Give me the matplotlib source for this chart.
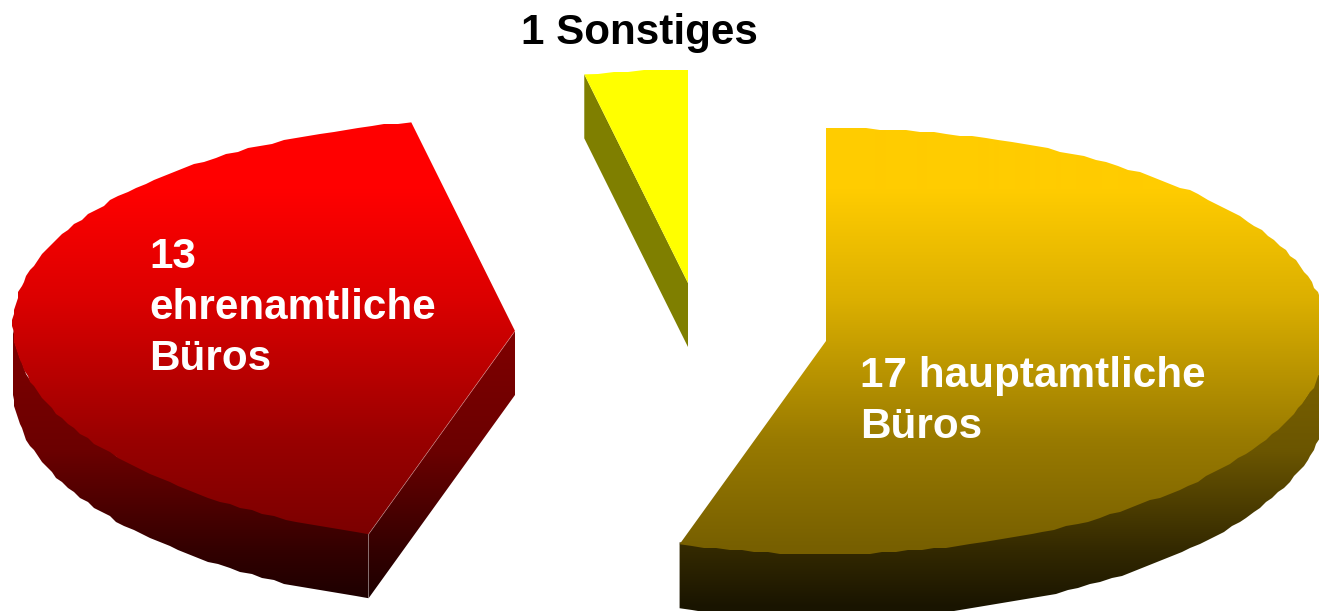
import numpy as np
import matplotlib
matplotlib.use('Agg')
import matplotlib.pyplot as plt
from matplotlib.patches import PathPatch
from matplotlib.path import Path

plt.rcParams['font.family'] = ['Liberation Sans', 'DejaVu Sans']

W, H = 1319, 611

categories = ['hauptamtliche', 'ehrenamtliche', 'Sonstiges']
values = [17, 13, 1]
labels = [['17 hauptamtliche', 'Büros'], ['13', 'ehrenamtliche', 'Büros'], ['1 Sonstiges']]

# look of each slice, in picture pixels
colors = [(255, 204, 0), (255, 0, 0), (255, 255, 0)]
centers = [(826, 341), (515, 331), (688, 283)]
label_pos = [(860, 376), (149, 257), (639, 33)]
label_colors = ['white', 'white', 'black']
label_ha = ['left', 'left', 'center']
RX, RY = 502, 213
SKEW = 0.027  # back of the pie is a bit wider than the front
DEPTH = 64
STEP = 1.5
GRID = 2  # the arcs in the picture have small stair steps
LINE = 51

# shading factor over picture height
top_y, top_f = [124, 190, 300, 440, 545], [1.0, 1.0, 0.86, 0.60, 0.47]
wall_y, wall_f = [331, 450, 550, 606], [0.50, 0.42, 0.20, 0.10]


def ell(c, t):
    t = np.radians(t)
    rx = RX * (1 + SKEW * np.cos(t))
    return np.column_stack([c[0] + rx * np.sin(t), c[1] - RY * np.cos(t)])


def arc(c, a, b):
    n = max(int(abs(b - a) / STEP), 1)
    pts = ell(c, np.linspace(a, b, n + 1))
    pts[1:-1] = np.round(pts[1:-1] / GRID) * GRID
    return pts


def shaded(ax, pts, rgb, ys, fs, flat=None, z=2):
    yy = np.arange(H) + 0.5
    f = np.full_like(yy, flat) if flat is not None else np.interp(yy, ys, fs)
    img = np.outer(f, np.array(rgb) / 255.0).reshape(H, 1, 3)
    im = ax.imshow(img, extent=(0, W, H, 0), aspect='auto', zorder=z,
                   interpolation='bilinear')
    p = PathPatch(Path(np.vstack([pts, pts[:1]]), closed=True),
                  transform=ax.transData, fc='none', ec='none')
    ax.add_patch(p)
    im.set_clip_path(p)


fig = plt.figure(figsize=(W / 100, H / 100), dpi=100, facecolor='white')
ax = fig.add_axes([0, 0, 1, 1])

edges = np.cumsum([0] + values) / sum(values) * 360
for i, cat in enumerate(categories):
    a, b = edges[i], edges[i + 1]
    c = centers[i]
    rgb = colors[i]
    is_flat = cat == 'Sonstiges'
    down = np.array([0, DEPTH])

    # outer wall, only the part that faces the viewer
    lo, hi = max(a, 90), min(b, 270)
    if lo < hi:
        rim = arc(c, lo, hi)
        # start a little under the top face so no white seam shows
        shaded(ax, np.vstack([rim - [0, 2], rim[::-1] + down]), rgb, wall_y, wall_f,
               0.5 if is_flat else None)

    # cut wall, only for slices whose cut faces the viewer
    if cat != 'hauptamtliche':
        e = ell(c, np.array([a]))[0]
        cen = np.array(c, dtype=float)
        shaded(ax, np.array([cen, e, e + down, cen + down]), rgb, wall_y, wall_f,
               0.5 if is_flat else None)
        if cat == 'ehrenamtliche':
            ax.plot([cen[0], e[0], e[0]], [cen[1], e[1], e[1] + DEPTH], color='white',
                    lw=0.6, alpha=0.3, zorder=4)

    # top face
    face = np.vstack([[c], arc(c, a, b)])
    shaded(ax, face, rgb, top_y, top_f, 1.0 if is_flat else None, z=3)

for lines, (x, y), col, ha in zip(labels, label_pos, label_colors, label_ha):
    for k, line in enumerate(lines):
        ax.text(x, y + k * LINE, line, color=col, ha=ha, va='center', fontsize=30.4,
                fontweight='bold', zorder=5)

ax.set_xlim(0, W)
ax.set_ylim(H, 0)
ax.axis('off')

fig.savefig('out.png', dpi=100, facecolor='white')
